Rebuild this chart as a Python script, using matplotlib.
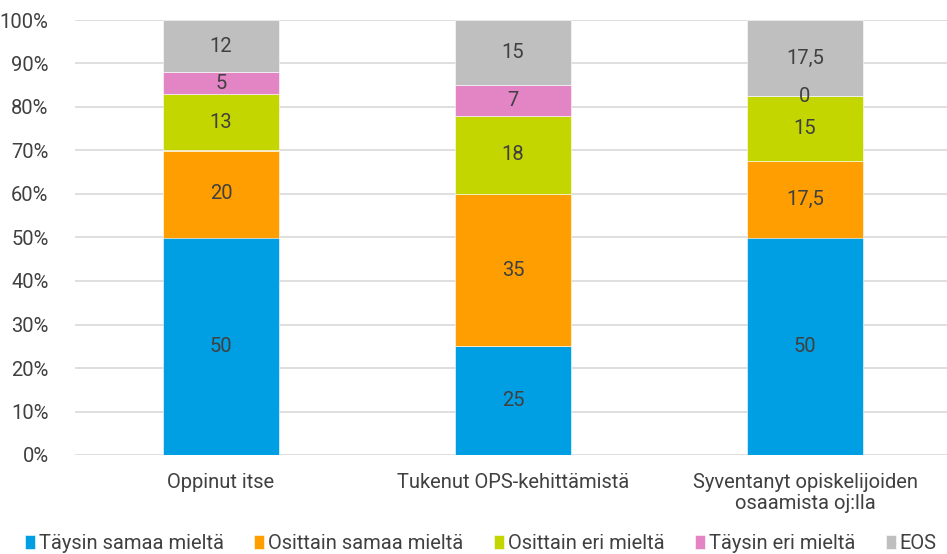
import numpy as np
import matplotlib.pyplot as plt

categories = ["Oppinut itse", "Tukenut OPS-kehittämistä", "Syventanyt opiskelijoiden\nosaamista oj:lla"]
series_names = ["Täysin samaa mieltä", "Osittain samaa mieltä", "Osittain eri mieltä", "Täysin eri mieltä", "EOS"]
taysin_samaa = [50, 25, 50]
osittain_samaa = [20, 35, 17.5]
osittain_eri = [13, 18, 15]
taysin_eri = [5, 7, 0]
eos = [12, 15, 17.5]
colors = ["#009FE3", "#FF9E00", "#C4D600", "#E384C4", "#BFBFBF"]

plt.rcParams['font.family'] = ['Roboto', 'DejaVu Sans']
txt = "#404040"
fs = 14.5

fig = plt.figure(figsize=(9.47, 5.54), dpi=100)
ax = fig.add_axes([75/947, 1-455/554, 876/947, 435/554])

data = [taysin_samaa, osittain_samaa, osittain_eri, taysin_eri, eos]
x = np.arange(len(categories))
bottom = np.zeros(len(categories))
for vals, name, c in zip(data, series_names, colors):
    vals = np.array(vals, dtype=float)
    ax.bar(x, vals, 0.4, bottom=bottom, color=c, label=name, edgecolor="white", linewidth=0.4, zorder=3)
    for xi, v, b in zip(x, vals, bottom):
        lab = ("%g" % v).replace(".", ",")
        ax.text(xi, b + v/2, lab, ha="center", va="center", fontsize=fs, color=txt, zorder=4)
    bottom += vals

ax.set_xlim(-0.5, 2.5)
ax.set_ylim(0, 100)
ax.set_yticks(np.arange(0, 101, 10))
ax.set_yticklabels(["%d%%" % v for v in range(0, 101, 10)])
ax.set_xticks(x)
ax.set_xticklabels(categories, linespacing=1.15)
ax.tick_params(length=0, labelsize=fs, colors=txt)
ax.tick_params(axis="x", pad=13)
ax.tick_params(axis="y", pad=19)
ax.yaxis.grid(True, color="#d9d9d9", linewidth=1.2, zorder=0)
for s in ax.spines.values():
    s.set_visible(False)

ax.legend(loc="lower left", bbox_to_anchor=(-58/876, -0.243), ncol=5, frameon=False,
          fontsize=fs, handlelength=0.5, handleheight=0.7, handletextpad=0.2,
          columnspacing=1.5, labelcolor=txt, borderaxespad=0)

fig.savefig("out.png", dpi=100)
